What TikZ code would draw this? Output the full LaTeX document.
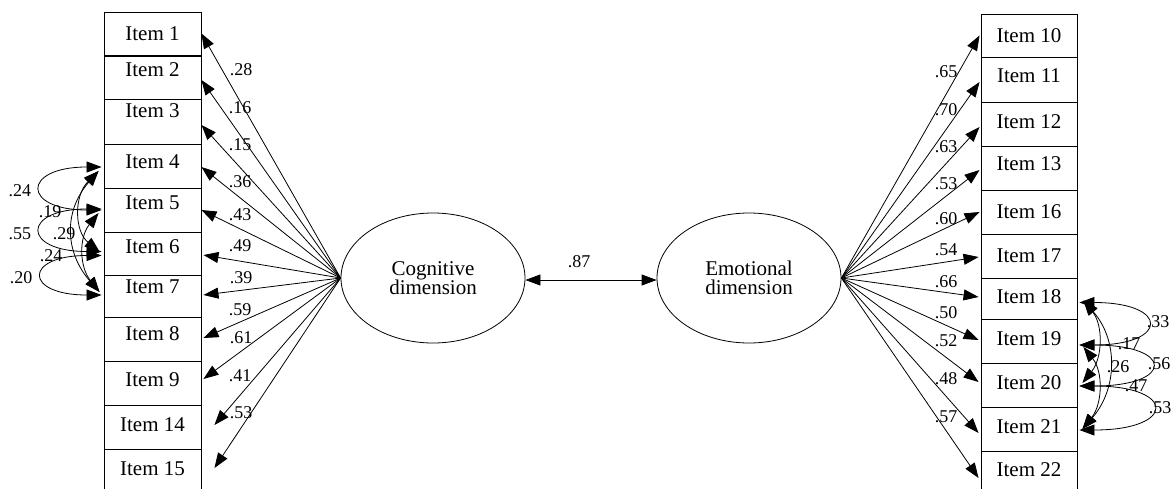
\documentclass[tikz,border=0pt]{standalone}
\usepackage{fontspec}
\setmainfont{Liberation Serif}
\usetikzlibrary{shapes.geometric,arrows.meta,calc}
\begin{document}
\begin{tikzpicture}[x=1pt,y=-1pt,
  itembox/.style={draw,line width=0.9pt,inner sep=0pt,text height=13pt,text depth=0pt,
    font=\fontsize{21}{22}\selectfont},
  lbox/.style={itembox,minimum width=97pt},
  rbox/.style={itembox,minimum width=96pt},
  lat/.style={draw,ellipse,line width=0.8pt,minimum width=184pt,minimum height=130pt,
    inner sep=0pt,align=center,font=\fontsize{21}{19.5}\selectfont},
  coef/.style={inner sep=0pt,font=\fontsize{18}{19}\selectfont},
  load/.style={line width=0.8pt,-{Triangle[length=15pt,width=11pt]}},
  cov/.style={line width=0.8pt,{Triangle[length=15pt,width=11pt]}-{Triangle[length=15pt,width=11pt]}}
]
\path[use as bounding box, clip] (0,0) rectangle (1171,488);

% left item boxes
\node[lbox,minimum height=43pt] (i1) at (152.5,33.5) {Item 1};
\node[lbox,minimum height=43pt,text depth=16pt] (i2) at (152.5,77.5) {Item 2};
\node[lbox,minimum height=45pt,text depth=22pt] (i3) at (152.5,121.5) {Item 3};
\node[lbox,minimum height=44pt,text depth=8pt] (i4) at (152.5,166) {Item 4};
\node[lbox,minimum height=44pt,text depth=14pt] (i5) at (152.5,210) {Item 5};
\node[lbox,minimum height=43pt,text depth=14pt] (i6) at (152.5,253.5) {Item 6};
\node[lbox,minimum height=42pt,text depth=18pt] (i7) at (152.5,296) {Item 7};
\node[lbox,minimum height=44pt,text depth=10pt] (i8) at (152.5,339) {Item 8};
\node[lbox,minimum height=44pt,text depth=6pt] (i9) at (152.5,383) {Item 9};
\node[lbox,minimum height=44pt,text depth=4pt] (i14) at (152.5,427) {Item 14};
\node[lbox,minimum height=44pt,text depth=4pt] (i15) at (152.5,471) {Item 15};

% right item boxes
\node[rbox,minimum height=43pt] (i10) at (1029,35.5) {Item 10};
\node[rbox,minimum height=45pt,text depth=7pt] (i11) at (1029,79.5) {Item 11};
\node[rbox,minimum height=44pt,text depth=4pt] (i12) at (1029,124) {Item 12};
\node[rbox,minimum height=44pt,text depth=8pt] (i13) at (1029,168) {Item 13};
\node[rbox,minimum height=44pt] (i16) at (1029,212) {Item 16};
\node[rbox,minimum height=44pt,text depth=1pt] (i17) at (1029,256) {Item 17};
\node[rbox,minimum height=41pt,text depth=4pt] (i18) at (1029,298.5) {Item 18};
\node[rbox,minimum height=44pt,text depth=4pt] (i19) at (1029,341) {Item 19};
\node[rbox,minimum height=44pt,text depth=4pt] (i20) at (1029,385) {Item 20};
\node[rbox,minimum height=44pt,text depth=4pt] (i21) at (1029,429) {Item 21};
\node[rbox,minimum height=44pt,text depth=6pt] (i22) at (1029,473) {Item 22};

% latent variables
\node[lat] (cog) at (433,278) {Cognitive\\dimension};
\node[lat] (emo) at (749,278) {Emotional\\dimension};

% factor correlation
\draw[cov] ([yshift=-2pt]cog.east) -- ([yshift=-2pt]emo.west);
\node[coef] (r) at (579,262) {.87};

% left loadings
\draw[load] (cog.west) -- (i1.east);
\draw[load] (cog.west) -- ([yshift=-2.5pt]i2.east);
\draw[load] (cog.west) -- ([yshift=-3.5pt]i3.east);
\draw[load] (cog.west) -- ([yshift=-1pt]i4.east);
\draw[load] (cog.west) -- (i5.east);
\draw[load] (cog.west) -- ([xshift=2pt,yshift=-1.5pt]i6.east);
\draw[load] (cog.west) -- ([xshift=2pt,yshift=1pt]i7.east);
\draw[load] (cog.west) -- ([xshift=2pt,yshift=1pt]i8.east);
\draw[load] (cog.west) -- ([xshift=2pt,yshift=4pt]i9.east);
\draw[load] (cog.west) -- ([xshift=13pt,yshift=2pt]i14.east);
\draw[load] (cog.west) -- ([xshift=13pt,yshift=3pt]i15.east);

\node[coef] (a1) at (241,70) {.28};
\node[coef] (a2) at (240,108) {.16};
\node[coef] (a3) at (240,145) {.15};
\node[coef] (a4) at (240,182) {.36};
\node[coef] (a5) at (240,215) {.43};
\node[coef] (a6) at (240,246) {.49};
\node[coef] (a7) at (241,278) {.39};
\node[coef] (a8) at (240,310) {.59};
\node[coef] (a9) at (241,338) {.61};
\node[coef] (a14) at (240,376) {.41};
\node[coef] (a15) at (241,413) {.53};

% right loadings
\draw[load] (emo.east) -- ([xshift=-1pt]i10.west);
\draw[load] (emo.east) -- ([xshift=-1pt,yshift=-2.5pt]i11.west);
\draw[load] (emo.east) -- ([xshift=-1pt,yshift=-3pt]i12.west);
\draw[load] (emo.east) -- ([xshift=-1pt,yshift=-2pt]i13.west);
\draw[load] (emo.east) -- ([xshift=-1pt]i16.west);
\draw[load] (emo.east) -- ([xshift=-2pt,yshift=-1pt]i17.west);
\draw[load] (emo.east) -- ([xshift=-2pt,yshift=1.5pt]i18.west);
\draw[load] (emo.east) -- ([xshift=-2pt,yshift=1pt]i19.west);
\draw[load] (emo.east) -- ([xshift=-2pt,yshift=3pt]i20.west);
\draw[load] (emo.east) -- ([xshift=-2pt,yshift=-4pt]i21.west);
\draw[load] (emo.east) -- ([xshift=-2pt,yshift=-5pt]i22.west);

\node[coef] (b10) at (946,72) {.65};
\node[coef] (b11) at (946,110) {.70};
\node[coef] (b12) at (946,147) {.63};
\node[coef] (b13) at (946,184) {.53};
\node[coef] (b16) at (946,219) {.60};
\node[coef] (b17) at (946,250) {.54};
\node[coef] (b18) at (946,282) {.66};
\node[coef] (b19) at (946,313) {.50};
\node[coef] (b20) at (946,341) {.52};
\node[coef] (b21) at (946,379) {.48};
\node[coef] (b22) at (946,417) {.57};

% left error covariances
\draw[cov] ([xshift=-2pt,yshift=-1pt]i4.west) .. controls +(-80,0) and +(-80,0) .. ([xshift=-2pt]i5.west);
\draw[cov] ([xshift=-2pt,yshift=1pt]i5.west) .. controls +(-80,0) and +(-80,0) .. ([xshift=-2pt,yshift=2pt]i6.west);
\draw[cov] ([xshift=-2pt,yshift=-2pt]i6.west) .. controls +(-78,0) and +(-78,0) .. ([xshift=-2pt,yshift=1pt]i7.west);
\draw[cov] ([xshift=-5pt,yshift=-5pt]i4.west) .. controls +(-25,25) and +(-25,-20) .. ([xshift=-4pt,yshift=2pt]i6.west);
\draw[cov] ([xshift=-5pt,yshift=-5pt]i4.west) .. controls +(-35,40) and +(-35,-40) .. ([xshift=-4pt,yshift=4pt]i7.west);
\draw[cov] ([xshift=-5pt,yshift=-3pt]i5.west) .. controls +(-20,25) and +(-20,-25) .. ([xshift=-4pt,yshift=4pt]i7.west);

\node[coef] (c1) at (20,191) {.24};
\node[coef] (c2) at (50,212) {.19};
\node[coef] (c3) at (20,234) {.55};
\node[coef] (c4) at (64,234) {.29};
\node[coef] (c5) at (51,256) {.24};
\node[coef] (c6) at (21,278) {.20};

% right error covariances
\draw[cov] ([xshift=2pt,yshift=-4pt]i18.east) .. controls +(90,0) and +(90,0) .. ([xshift=2pt,yshift=-4pt]i19.east);
\draw[cov] ([xshift=2pt,yshift=-4pt]i19.east) .. controls +(95,0) and +(95,0) .. ([xshift=2pt,yshift=-1pt]i20.east);
\draw[cov] ([xshift=2pt,yshift=-1pt]i20.east) .. controls +(97,0) and +(97,0) .. ([xshift=2pt,yshift=-1pt]i21.east);
\draw[cov] ([xshift=6pt,yshift=-2pt]i18.east) .. controls +(20,25) and +(20,-25) .. ([xshift=5pt,yshift=2pt]i20.east);
\draw[cov] ([xshift=6pt,yshift=-6pt]i19.east) .. controls +(20,25) and +(20,-25) .. ([xshift=5pt]i21.east);
\draw[cov] ([xshift=6pt,yshift=-2pt]i18.east) .. controls +(35,40) and +(35,-40) .. ([xshift=5pt]i21.east);

\node[coef] (d1) at (1158,322) {.33};
\node[coef] (d2) at (1129,344) {.17};
\node[coef] (d3) at (1118,367) {.26};
\node[coef] (d4) at (1159,364) {.56};
\node[coef] (d5) at (1136,386) {.47};
\node[coef] (d6) at (1160,408) {.53};
\end{tikzpicture}
\end{document}
